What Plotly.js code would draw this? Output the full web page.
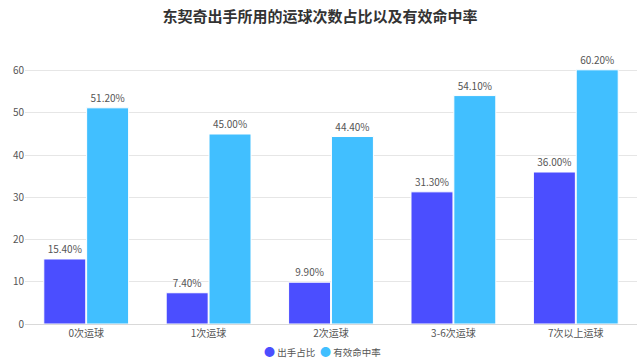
<!DOCTYPE html>
<html><head><meta charset="utf-8">
<script src="https://cdn.plot.ly/plotly-3.0.1.min.js"></script>
<style>html,body{margin:0;padding:0;background:#fff;}#c{width:640px;height:361px;}</style>
</head><body><div id="c"></div>
<script>
const categories = ['0次运球','1次运球','2次运球','3-6次运球','7次以上运球'];
const shotShare = [15.4, 7.4, 9.9, 31.3, 36.0];
const efgPct = [51.2, 45.0, 44.4, 54.1, 60.2];
const seriesNames = ['出手占比','有效命中率'];
const colors = ['#4b4eff','#41bfff'];
const font = '"Noto Sans CJK SC", "Noto Sans", sans-serif';

function barTrace(vals, name, color){
  return {type:'bar', x:categories, y:vals, name:name, showlegend:false,
    marker:{color:color, line:{color:'#ffffff', width:1}},
    text:vals.map(v=>v.toFixed(2)+'%'), textposition:'outside', cliponaxis:false,
    textfont:{size:10, color:'#555', family:font}, hoverinfo:'skip'};
}
const data = [
  barTrace(shotShare, seriesNames[0], colors[0]),
  barTrace(efgPct, seriesNames[1], colors[1])
];
const legendX = [0.3875, 0.4785];
const annotations = [];
seriesNames.forEach((n,i)=>{
  annotations.push({xref:'paper', yref:'paper', x:legendX[i], y:-0.1, xanchor:'left', yanchor:'middle',
    showarrow:false, text:'<span style="color:'+colors[i]+';font-size:11px">●</span> '+n,
    font:{size:9.5, color:'#555', family:font}});
});
const layout = {
  width:640, height:361, paper_bgcolor:'#fff', plot_bgcolor:'#fff',
  margin:{l:25, r:3, t:58, b:37, autoexpand:false},
  font:{family:font, color:'#555', size:10},
  title:{text:'<b>东契奇出手所用的运球次数占比以及有效命中率</b>', x:0.5, xanchor:'center', y:0.953, yanchor:'middle',
    font:{size:15, color:'#333', family:font}},
  barmode:'group', bargap:0.3, bargroupgap:0.02,
  xaxis:{type:'category', showgrid:false, showline:true, linecolor:'#d9d9d9', linewidth:1, ticks:'', tickfont:{size:10, color:'#555'}, fixedrange:true},
  yaxis:{range:[0,63], tickvals:[0,10,20,30,40,50,60], showgrid:true, gridcolor:'#e6e6e6', zeroline:false, showline:false, ticks:'', tickfont:{size:10, color:'#555'}, fixedrange:true},
  annotations:annotations,
  showlegend:false
};
Plotly.newPlot('c', data, layout, {displayModeBar:false, staticPlot:true});
</script></body></html>
